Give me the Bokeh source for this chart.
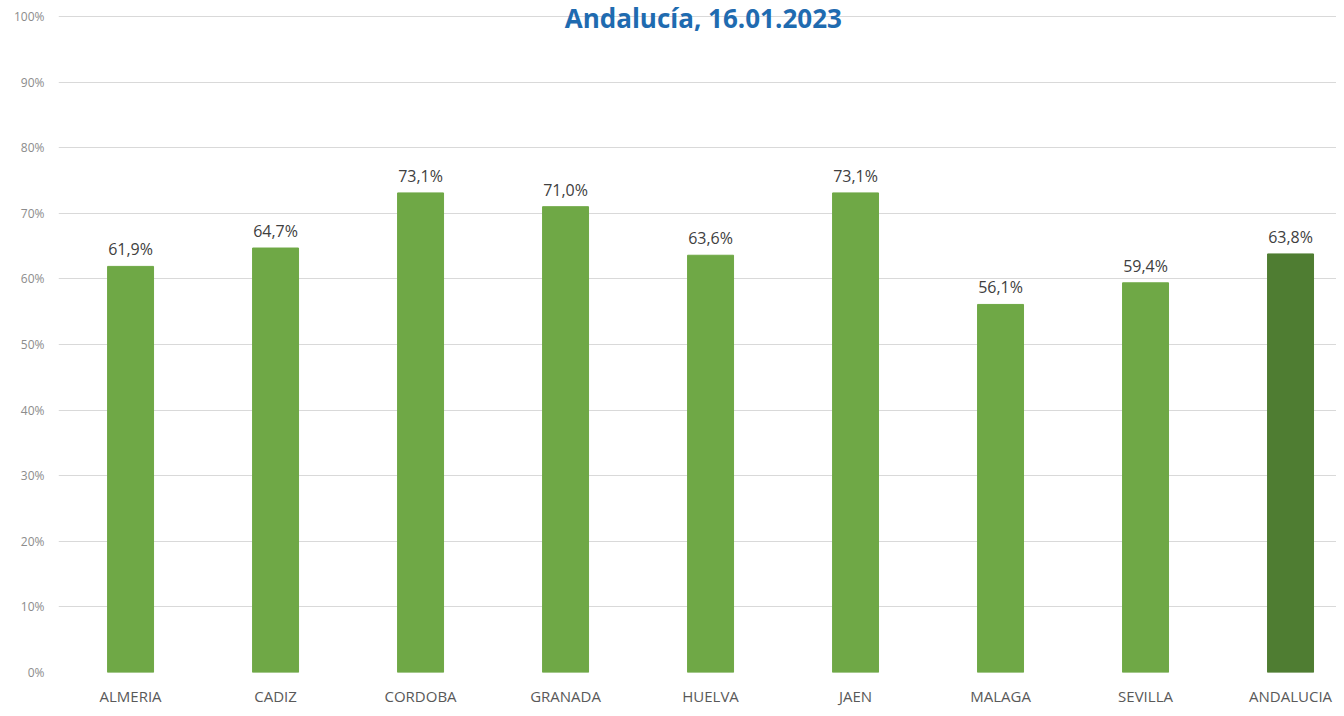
from bokeh.plotting import figure
from bokeh.models import ColumnDataSource, Range1d, FixedTicker, LabelSet
from bokeh.core.properties import value
from bokeh.embed import file_html
from bokeh.resources import INLINE

categories = ["ALMERIA", "CADIZ", "CORDOBA", "GRANADA", "HUELVA", "JAEN", "MALAGA", "SEVILLA", "ANDALUCIA"]
values = [0.619, 0.647, 0.731, 0.710, 0.636, 0.731, 0.561, 0.594, 0.638]
y_ticks = [0.0, 0.1, 0.2, 0.3, 0.4, 0.5, 0.6, 0.7, 0.8, 0.9, 1.0]
y_tick_labels = ["0%", "10%", "20%", "30%", "40%", "50%", "60%", "70%", "80%", "90%", "100%"]
title_text = "Andalucía, 16.01.2023"

light = "#6FA846"
dark = "#4F7D32"
colors = [light] * (len(categories) - 1) + [dark]
xs = list(range(len(categories)))
labels = [("%.1f%%" % (v * 100)).replace(".", ",") for v in values]

src = ColumnDataSource(dict(x=xs, top=values, color=colors, label=labels))

p = figure(width=1336, height=708, output_backend="svg", toolbar_location=None,
           x_range=Range1d(-0.497, 8.317), y_range=Range1d(0, 1.0243),
           min_border_left=58, min_border_right=0, min_border_top=0, min_border_bottom=34)
p.outline_line_color = None
p.background_fill_color = "white"
p.border_fill_color = "white"

p.vbar(x="x", top="top", width=0.317, bottom=0, color="color", source=src)

lbl = LabelSet(x="x", y="top", text="label", source=src, text_align="center",
               text_baseline="bottom", y_offset=6, text_font_size=value("16px"),
               text_color=value("#404040"), text_font=value("Open Sans"))
p.add_layout(lbl)

p.text(x=[3.95], y=[0.998], text=[title_text], text_align="center", text_baseline="alphabetic",
       text_font=value("Open Sans"), text_font_style="bold",
       text_font_size=value("26px"), text_color="#1F6BB0")

p.xaxis.ticker = FixedTicker(ticks=xs)
p.xaxis.major_label_overrides = {i: c for i, c in zip(xs, categories)}
p.xaxis.axis_line_color = None
p.xaxis.major_tick_line_color = None
p.xaxis.minor_tick_line_color = None
p.xaxis.major_tick_out = 0
p.xaxis.major_tick_in = 0
p.xaxis.major_label_text_font = "Open Sans"
p.xaxis.major_label_text_font_size = "15px"
p.xaxis.major_label_text_color = "#595959"
p.xaxis.major_label_standoff = 13

p.yaxis.ticker = FixedTicker(ticks=y_ticks)
p.yaxis.major_label_overrides = {t: l for t, l in zip(y_ticks, y_tick_labels)}
p.yaxis.axis_line_color = None
p.yaxis.major_tick_line_color = None
p.yaxis.minor_tick_line_color = None
p.yaxis.major_tick_out = 0
p.yaxis.major_tick_in = 0
p.yaxis.major_label_text_font = "Open Sans"
p.yaxis.major_label_text_font_size = "12px"
p.yaxis.major_label_text_color = "#8C8C8C"
p.yaxis.major_label_standoff = 14

p.xgrid.grid_line_color = None
p.ygrid.grid_line_color = "#D9D9D9"
p.ygrid.grid_line_width = 1

open("out.html", "w").write(file_html(p, INLINE))
